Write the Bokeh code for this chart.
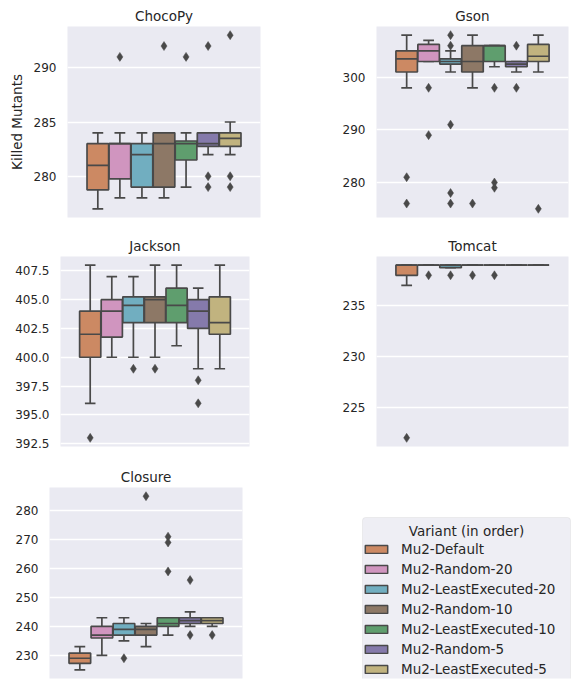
import colorsys
from bokeh.plotting import figure
from bokeh.models import (ColumnDataSource, FactorRange, Range1d, FixedTicker, Legend,
                          LegendItem, Label, PrintfTickFormatter, BoxAnnotation)
from bokeh.layouts import column, row
from bokeh.transform import dodge
from bokeh.embed import file_html
from bokeh.resources import INLINE

# ---------------- data ----------------
variants = ["Mu2-Default", "Mu2-Random-20", "Mu2-LeastExecuted-20", "Mu2-Random-10",
            "Mu2-LeastExecuted-10", "Mu2-Random-5", "Mu2-LeastExecuted-5"]
base_colors = ["#DD8452", "#DA8BC3", "#64B5CD", "#937860", "#55A868", "#8172B3", "#CCB974"]

chocopy_whisker_low = [277, 278, 278, 278, 279, 282, 282]
chocopy_q1 = [278.75, 279.75, 279, 279, 281.5, 282.75, 282.75]
chocopy_median = [281, 283, 282, 283, 283, 283, 283.5]
chocopy_q3 = [283, 283, 283, 284, 283.25, 284, 284]
chocopy_whisker_high = [284, 284, 284, 284, 284, 284, 285]
chocopy_outliers = [[], [291], [], [292], [291], [280, 279, 292], [280, 279, 293]]
chocopy_ticks = [280, 285, 290]

gson_whisker_low = [298, 303, 301, 298, 302, 301, 301]
gson_q1 = [301, 303, 302.5, 301, 303, 302, 303]
gson_median = [303.5, 305, 303, 303, 306, 302.5, 304]
gson_q3 = [305, 306.25, 303.5, 306, 306, 303, 306.25]
gson_whisker_high = [308, 307, 305, 308, 306, 303, 308]
gson_outliers = [[281, 276], [298, 289], [308, 306, 291, 278, 276], [276],
                 [298, 280, 279], [306, 298], [275]]
gson_ticks = [280, 290, 300]

jackson_whisker_low = [396, 400, 400, 400, 401, 399, 399]
jackson_q1 = [400, 401.75, 403, 403, 403, 402.5, 402]
jackson_median = [402, 404, 404.5, 405, 404.5, 404, 403]
jackson_q3 = [404, 405, 405.25, 405.25, 406, 405, 405.25]
jackson_whisker_high = [408, 407, 407, 408, 408, 406, 408]
jackson_outliers = [[393], [], [399], [399], [], [398, 396], []]
jackson_ticks = [392.5, 395.0, 397.5, 400.0, 402.5, 405.0, 407.5]

tomcat_whisker_low = [237, 239, 238.75, 239, 239, 239, 239]
tomcat_q1 = [238, 239, 238.75, 239, 239, 239, 239]
tomcat_median = [239, 239, 239, 239, 239, 239, 239]
tomcat_q3 = [239, 239, 239, 239, 239, 239, 239]
tomcat_whisker_high = [239, 239, 239, 239, 239, 239, 239]
tomcat_outliers = [[222], [238], [238], [238], [238], [], []]
tomcat_ticks = [225, 230, 235]

closure_whisker_low = [225, 230, 235, 233, 237, 240, 240]
closure_q1 = [227.25, 236, 237, 237, 240, 241, 241]
closure_median = [229, 237, 239, 239, 241, 242, 242]
closure_q3 = [230.75, 240, 241, 240, 243, 243, 243]
closure_whisker_high = [233, 243, 243, 241, 243, 245, 243]
closure_outliers = [[], [], [229], [285], [271, 269, 259], [256, 237], [237]]
closure_ticks = [230, 240, 250, 260, 270, 280]

legend_title = "Variant (in order)"
y_label = "Killed Mutants"

# ---------------- style ----------------
FONT = "DejaVu Sans"
TEXT = "#262626"
BG = "#eaeaf2"


def desat(hexc, prop=0.75):
    r, g, b = [int(hexc[i:i + 2], 16) / 255 for i in (1, 3, 5)]
    h, l, s = colorsys.rgb_to_hls(r, g, b)
    r, g, b = colorsys.hls_to_rgb(h, l, s * prop)
    return "#%02x%02x%02x" % tuple(round(c * 255) for c in (r, g, b))


colors = [desat(c) for c in base_colors]
lum = min(colorsys.rgb_to_hls(*[int(c[i:i + 2], 16) / 255 for i in (1, 3, 5)])[1] for c in colors) * 0.6
GRAY = "#%02x%02x%02x" % ((round(lum * 255),) * 3)
LW = 1.7


def make_panel(title, wl, q1, med, q3, wh, outl, ticks, fw, fh, bl, br, bt, bb,
               ylabel=None, fmt=None):
    vals = wl + wh + [v for o in outl for v in o]
    lo, hi = min(vals), max(vals)
    pad = (hi - lo) * 0.05
    p = figure(x_range=FactorRange(factors=variants, range_padding=0.25),
               y_range=Range1d(lo - pad, hi + pad),
               frame_width=fw, frame_height=fh,
               min_border_left=bl, min_border_right=br, min_border_top=bt, min_border_bottom=bb,
               x_axis_location=None, output_backend="svg", toolbar_location=None,
               title=title)
    p.title.text_font = FONT
    p.title.text_font_size = "13.5px"
    p.title.text_font_style = "normal"
    p.title.text_color = TEXT
    p.title.align = "center"
    p.title.standoff = 6
    p.background_fill_color = BG
    p.border_fill_color = "white"
    p.outline_line_color = None
    p.xgrid.grid_line_color = None
    p.ygrid.grid_line_color = "white"
    p.ygrid.grid_line_width = 1.3
    ax = p.yaxis[0]
    ax.ticker = FixedTicker(ticks=ticks)
    if fmt:
        ax.formatter = PrintfTickFormatter(format=fmt)
    ax.axis_line_color = None
    ax.major_tick_line_color = None
    ax.minor_tick_line_color = None
    ax.major_tick_out = 0
    ax.major_tick_in = 0
    ax.major_label_standoff = 11
    ax.major_label_text_font = FONT
    ax.major_label_text_font_size = "12px"
    ax.major_label_text_color = TEXT
    if ylabel:
        ax.axis_label = ylabel
        ax.axis_label_text_font = FONT
        ax.axis_label_text_font_size = "13.5px"
        ax.axis_label_text_font_style = "normal"
        ax.axis_label_text_color = TEXT
        ax.axis_label_standoff = 6

    src = ColumnDataSource(dict(variant=variants, wl=wl, q1=q1, med=med, q3=q3, wh=wh, color=colors))
    xr = p.x_range
    p.segment(x0="variant", y0="wl", x1="variant", y1="q1", source=src, line_color=GRAY, line_width=LW)
    p.segment(x0="variant", y0="q3", x1="variant", y1="wh", source=src, line_color=GRAY, line_width=LW)
    p.segment(x0=dodge("variant", -0.245, range=xr), y0="wl", x1=dodge("variant", 0.245, range=xr), y1="wl",
              source=src, line_color=GRAY, line_width=LW)
    p.segment(x0=dodge("variant", -0.245, range=xr), y0="wh", x1=dodge("variant", 0.245, range=xr), y1="wh",
              source=src, line_color=GRAY, line_width=LW)
    p.vbar(x="variant", width=0.98, bottom="q1", top="q3", source=src,
           fill_color="color", line_color=GRAY, line_width=LW)
    p.segment(x0=dodge("variant", -0.49, range=xr), y0="med", x1=dodge("variant", 0.49, range=xr), y1="med",
              source=src, line_color=GRAY, line_width=LW)
    ov = [v for v, o in zip(variants, outl) for _ in o]
    oy = [y for o in outl for y in o]
    p.scatter(x=ov, y=oy, marker="diamond", size=9, fill_color=GRAY, line_color=GRAY, line_width=0.5)
    return p


p1 = make_panel("ChocoPy", chocopy_whisker_low, chocopy_q1, chocopy_median, chocopy_q3,
                chocopy_whisker_high, chocopy_outliers, chocopy_ticks, 193, 191, 67, 10, 26, 15, ylabel=y_label)
p2 = make_panel("Gson", gson_whisker_low, gson_q1, gson_median, gson_q3,
                gson_whisker_high, gson_outliers, gson_ticks, 192, 191, 106, 5, 26, 15)
p3 = make_panel("Jackson", jackson_whisker_low, jackson_q1, jackson_median, jackson_q3,
                jackson_whisker_high, jackson_outliers, jackson_ticks, 189, 190, 60, 21, 23, 17, fmt="%.1f")
p4 = make_panel("Tomcat", tomcat_whisker_low, tomcat_q1, tomcat_median, tomcat_q3,
                tomcat_whisker_high, tomcat_outliers, tomcat_ticks, 192, 190, 106, 5, 23, 17)
p5 = make_panel("Closure", closure_whisker_low, closure_q1, closure_median, closure_q3,
                closure_whisker_high, closure_outliers, closure_ticks, 193, 191, 49, 28, 23, 3)

# ---------------- legend panel ----------------
pl = figure(frame_width=303, frame_height=191, min_border_left=0, min_border_top=23,
            min_border_right=0, min_border_bottom=3, x_axis_location=None, y_axis_location=None,
            x_range=Range1d(0, 1), y_range=Range1d(0, 1),
            output_backend="svg", toolbar_location=None)
pl.outline_line_color = None
pl.background_fill_color = None
pl.border_fill_color = "white"
pl.grid.grid_line_color = None

# legend frame (drawn underneath so the centred title label stays on top)
pl.add_layout(BoxAnnotation(left=92, right=300, top=161, bottom=-30,
                            left_units="screen", right_units="screen",
                            top_units="screen", bottom_units="screen",
                            fill_color="#eeeef4", fill_alpha=1.0,
                            line_color="#cccccc", line_width=1, border_radius=3,
                            level="underlay", editable=False))

items = []
for v, c in zip(variants, colors):
    r = pl.vbar(x=[0.5], top=[0.5], bottom=[0.4], width=0.1, fill_color=c, line_color=GRAY,
                line_width=1.5, visible=False)
    items.append(LegendItem(label=v, renderers=[r]))
leg = Legend(items=items, location=(92, -1), margin=0, padding=6, spacing=0,
             title=legend_title, title_text_alpha=0.0, title_text_font=FONT,
             title_text_font_size="13.5px", title_standoff=1,
             label_text_font=FONT, label_text_font_size="13.5px", label_text_color=TEXT,
             label_height=20, glyph_width=28, glyph_height=10, label_standoff=11,
             background_fill_alpha=0.0, border_line_color=None,
             inactive_fill_alpha=0.0)
pl.add_layout(leg)
pl.add_layout(Label(x=196, y=148, x_units="screen", y_units="screen", text=legend_title,
                    text_align="center", text_baseline="middle", text_font=FONT,
                    text_font_size="13.5px", text_color=TEXT, level="overlay"))

layout = column(row(p1, p2), row(p3, p4), row(p5, pl))

with open("out.html", "w") as f:
    f.write(file_html(layout, INLINE))
